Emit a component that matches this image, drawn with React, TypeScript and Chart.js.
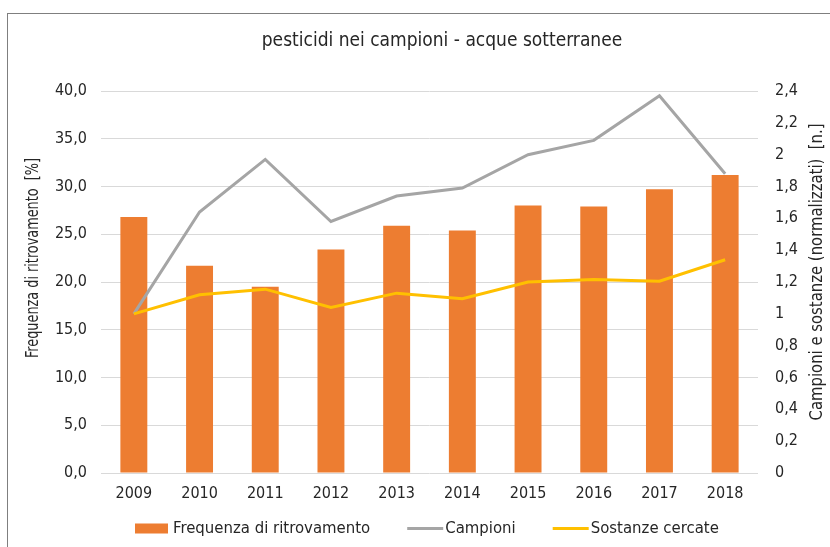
import React, { useEffect, useRef } from "react";
import { Chart, registerables } from "chart.js";

Chart.register(...registerables);

const years = ["2009", "2010", "2011", "2012", "2013", "2014", "2015", "2016", "2017", "2018"];
const frequenza = [26.8, 21.7, 19.5, 23.4, 25.9, 25.4, 28.0, 27.9, 29.7, 31.2];
const campioni = [1.0, 1.64, 1.97, 1.58, 1.74, 1.79, 2.0, 2.09, 2.37, 1.88];
const sostanze = [1.0, 1.12, 1.155, 1.04, 1.13, 1.095, 1.2, 1.215, 1.205, 1.34];

const TITLE = "pesticidi nei campioni - acque sotterranee";
const LEFT_TITLE = "Frequenza di ritrovamento  [%]";
const RIGHT_TITLE = "Campioni e sostanze (normalizzati)  [n.]";
const SERIES_NAMES = ["Frequenza di ritrovamento", "Campioni", "Sostanze cercate"];

const FONT = "'Liberation Sans Narrow', 'Arial Narrow', 'DejaVu Sans Condensed', sans-serif";
const TEXT = "#262626";
const ORANGE = "#ED7D31";
const GRAY = "#A5A5A5";
const YELLOW = "#FFC000";

// draw text compressed horizontally to a given width (mimics a narrow face)
function fitText(ctx: CanvasRenderingContext2D, text: string, width: number) {
  const w = ctx.measureText(text).width;
  const sx = Math.min(1, width / w);
  ctx.save();
  ctx.scale(sx, 1);
  ctx.fillText(text, 0, 0);
  ctx.restore();
}

const overlayPlugin = {
  id: "overlay",
  afterDraw(chart: any) {
    const ctx = chart.ctx as CanvasRenderingContext2D;
    ctx.save();
    ctx.fillStyle = TEXT;
    // title
    ctx.font = `19px ${FONT}`;
    ctx.textAlign = "center";
    ctx.textBaseline = "middle";
    ctx.fillText(TITLE, 442, 41);
    // left axis title
    ctx.font = `17px ${FONT}`;
    ctx.save();
    ctx.translate(34, 258);
    ctx.rotate(-Math.PI / 2);
    fitText(ctx, LEFT_TITLE, 200);
    ctx.restore();
    // right axis title
    ctx.save();
    ctx.translate(818, 272);
    ctx.rotate(-Math.PI / 2);
    fitText(ctx, RIGHT_TITLE, 297);
    ctx.restore();
    // legend
    ctx.font = `16.6px ${FONT}`;
    ctx.textAlign = "left";
    const ly = 528.5;
    let x = 135;
    const ds = chart.data.datasets;
    ctx.fillStyle = ds[0].backgroundColor;
    ctx.fillRect(x, ly - 5, 33, 10);
    x += 38;
    ctx.fillStyle = TEXT;
    ctx.fillText(ds[0].label, x, ly);
    x += ctx.measureText(ds[0].label).width + 37;
    for (let i = 1; i < ds.length; i++) {
      ctx.strokeStyle = ds[i].borderColor;
      ctx.lineWidth = 3;
      ctx.beginPath();
      ctx.moveTo(x, ly);
      ctx.lineTo(x + 36, ly);
      ctx.stroke();
      x += 38;
      ctx.fillStyle = TEXT;
      ctx.fillText(ds[i].label, x, ly);
      x += ctx.measureText(ds[i].label).width + 37;
    }
    ctx.restore();
  },
};

export default function App() {
  const ref = useRef<HTMLCanvasElement | null>(null);

  useEffect(() => {
    if (!ref.current) return;
    const chart = new Chart(ref.current, {
      type: "bar",
      data: {
        labels: years,
        datasets: [
          {
            type: "bar",
            label: SERIES_NAMES[0],
            data: frequenza,
            backgroundColor: ORANGE,
            yAxisID: "y",
            barPercentage: 0.41,
            categoryPercentage: 1,
            order: 3,
          },
          {
            type: "line",
            label: SERIES_NAMES[1],
            data: campioni,
            borderColor: GRAY,
            backgroundColor: GRAY,
            borderWidth: 3,
            pointRadius: 0,
            tension: 0,
            yAxisID: "y1",
            order: 2,
          },
          {
            type: "line",
            label: SERIES_NAMES[2],
            data: sostanze,
            borderColor: YELLOW,
            backgroundColor: YELLOW,
            borderWidth: 3,
            pointRadius: 0,
            tension: 0,
            yAxisID: "y1",
            order: 1,
          },
        ] as any,
      },
      options: {
        animation: false,
        responsive: false,
        maintainAspectRatio: false,
        layout: { padding: { top: 91, bottom: 40.8, left: 0, right: 0 } },
        plugins: {
          legend: { display: false },
          title: { display: false },
          tooltip: { enabled: false },
        },
        scales: {
          x: {
            grid: { display: false },
            border: { display: false },
            ticks: {
              font: { family: FONT, size: 16 },
              color: TEXT,
              padding: 3,
              autoSkip: false,
              maxRotation: 0,
            },
          },
          y: {
            position: "left",
            min: 0,
            max: 40,
            ticks: {
              stepSize: 5,
              padding: 14,
              font: { family: FONT, size: 16 },
              color: TEXT,
              callback: (v: any) => Number(v).toFixed(1).replace(".", ","),
            },
            grid: { color: "#D9D9D9", drawTicks: false, lineWidth: 1 },
            border: { display: false },
            afterFit: (s: any) => {
              s.width = 101;
            },
          },
          y1: {
            position: "right",
            min: 0,
            max: 2.4,
            ticks: {
              stepSize: 0.2,
              padding: 17,
              font: { family: FONT, size: 16 },
              color: TEXT,
              callback: (v: any) => String(Number(Number(v).toFixed(1))).replace(".", ","),
            },
            grid: { display: false, drawTicks: false },
            border: { display: false },
            afterFit: (s: any) => {
              s.width = 72;
            },
          },
        },
      } as any,
      plugins: [overlayPlugin],
    });
    return () => chart.destroy();
  }, []);

  return (
    <div style={{ position: "absolute", left: 0, top: 0, width: 830, height: 547, overflow: "hidden", background: "#fff" }}>
      <div
        style={{
          position: "absolute",
          left: 7,
          top: 13,
          width: 900,
          height: 700,
          borderTop: "1px solid #7f7f7f",
          borderLeft: "1px solid #7f7f7f",
        }}
      />
      <canvas ref={ref} width={830} height={547} style={{ position: "absolute", left: 0, top: 0 }} />
    </div>
  );
}
